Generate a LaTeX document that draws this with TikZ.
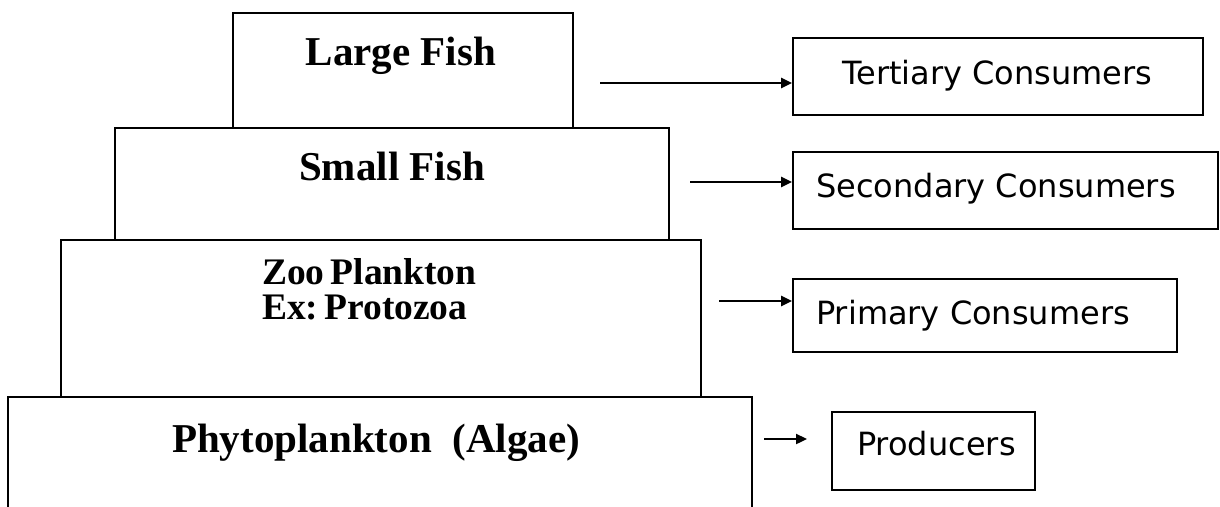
\documentclass[tikz,border=0pt]{standalone}
\usepackage{fontspec}
\setmainfont{Liberation Serif}
\newfontfamily\dvs{DejaVu Sans}
\usetikzlibrary{arrows.meta}
\frenchspacing
\begin{document}
\begin{tikzpicture}[x=1pt,y=-1pt,
  tier/.style={draw, line width=2pt, inner sep=0pt},
  role/.style={draw, line width=1.8pt, inner sep=0pt},
  ttext/.style={font=\bfseries\fontsize{41}{49}\selectfont, anchor=base, inner sep=0pt},
  ztext/.style={font=\bfseries\fontsize{37.5}{42}\selectfont, anchor=base west, inner sep=0pt},
  rtext/.style={font=\dvs\fontsize{32}{38}\selectfont, anchor=base west, inner sep=0pt},
  arr/.style={-{Triangle[length=11pt,width=10pt]}, line width=2.3pt}]
\useasboundingbox (0,0) rectangle (1220,506);
\clip (0,0) rectangle (1220,506);
% pyramid tiers
\node[tier, minimum width=744pt, minimum height=203pt] (phyto) at (380,498.5) {};
\node[tier, minimum width=640pt, minimum height=157pt] (zoo) at (381,318.5) {};
\node[tier, minimum width=554pt, minimum height=112pt] (small) at (392,184) {};
\node[tier, minimum width=340pt, minimum height=115pt] (large) at (403,70.5) {};
\node[ttext] (tlarge) at (401,65) {Large Fish};
\node[ttext] (tsmall) at (392,180) {Small Fish};
\node[ztext] (tzoo1) at (262,284) {Zoo\hspace{6pt}Plankton};
\node[ztext] (tzoo2) at (262,319) {Ex:\hspace{6pt}Protozoa};
\node[ttext] (tphyto) at (376,452) {Phytoplankton\ \ (Algae)};
% roles
\node[role, minimum width=410pt, minimum height=77pt] (tert) at (998,76.5) {};
\node[role, minimum width=425pt, minimum height=77pt] (sec) at (1005.5,190.5) {};
\node[role, minimum width=384pt, minimum height=73pt] (prim) at (985,315.5) {};
\node[role, minimum width=203pt, minimum height=78pt] (prod) at (933.5,451) {};
\node[rtext] (ttert) at (842,84) {Tertiary Consumers};
\node[rtext] (tsec) at (816,197) {Secondary Consumers};
\node[rtext] (tprim) at (816,324) {Primary Consumers};
\node[rtext] (tprod) at (857,455) {Producers};
% arrows
\coordinate (a1) at (600,83);
\coordinate (a2) at (690,182);
\coordinate (a3) at (719,301);
\coordinate (a4) at (764,439);
\coordinate (a4e) at (807,439);
\draw[arr] (a1) -- (a1 -| tert.west);
\draw[arr] (a2) -- (a2 -| sec.west);
\draw[arr] (a3) -- (a3 -| prim.west);
\draw[arr] (a4) -- (a4e);
\end{tikzpicture}
\end{document}
